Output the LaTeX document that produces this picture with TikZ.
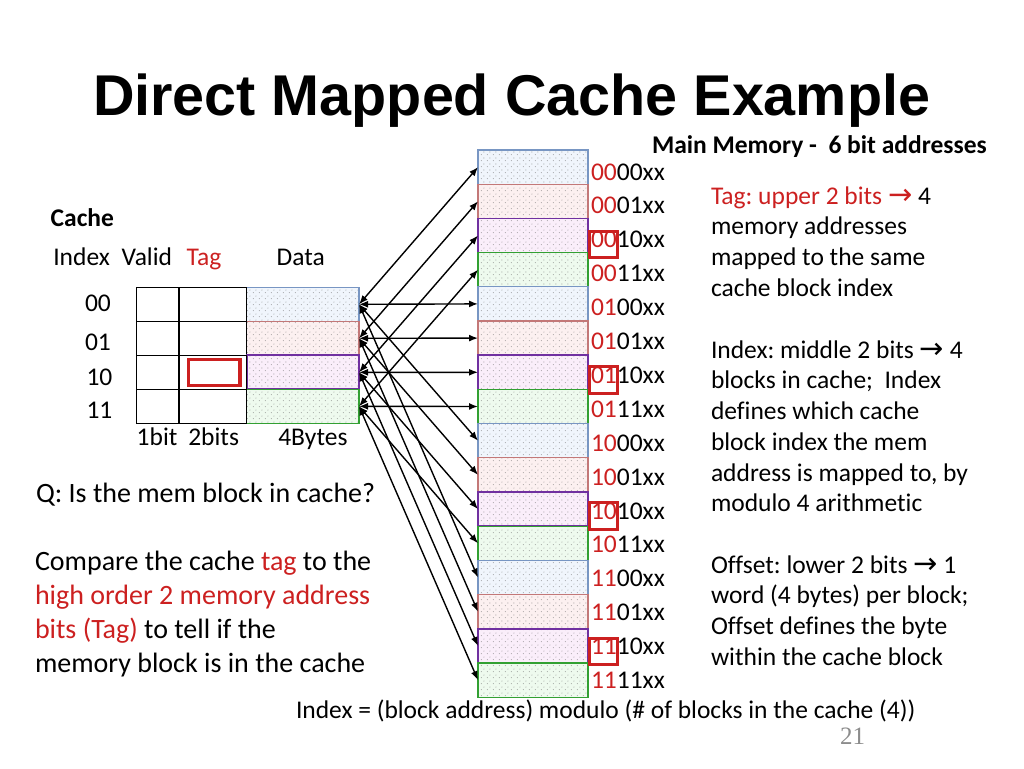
\documentclass[tikz,border=0pt]{standalone}
\usepackage{fontspec}
\setmainfont{Carlito}[Ligatures=NoCommon]
\newfontfamily\titlefnt{Liberation Sans}
\newfontfamily\arrowfnt{DejaVu Sans}
\newfontfamily\numfnt{Liberation Serif}
\usetikzlibrary{patterns.meta,arrows.meta}
\definecolor{redc}{RGB}{204,32,32}
\definecolor{bluec}{RGB}{120,150,195}
\definecolor{redb}{RGB}{195,120,120}
\definecolor{purpc}{RGB}{112,48,160}
\definecolor{greenc}{RGB}{50,160,50}
\definecolor{bluet}{RGB}{240,245,252}
\definecolor{redt}{RGB}{252,240,240}
\definecolor{purpt}{RGB}{250,238,250}
\definecolor{greent}{RGB}{238,250,238}
\definecolor{pagegray}{RGB}{140,140,140}
\frenchspacing
\newcommand\mybody{\fontsize{25.5}{30}\selectfont}
\newcommand\myleft{\fontsize{28}{34}\selectfont}
\newcommand\myarr{{\arrowfnt\fontsize{29}{30}\selectfont →}}
\tikzdeclarepattern{
  name=sdots, type=uncolored,
  bounding box={(0pt,0pt) and (6pt,6pt)},
  tile size={(6pt,6pt)},
  code={\fill (1.5pt,1.5pt) circle (0.5pt); \fill (4.5pt,4.5pt) circle (0.5pt);}
}
\tikzset{
  every node/.style={inner sep=0pt, outer sep=0pt},
  txt/.style={anchor=base west, font=\mybody},
  ltxt/.style={anchor=base west, font=\myleft},
  memblk/.style={minimum width=110pt, minimum height=34.2pt, line width=1.2pt,
    pattern=sdots, pattern color=black!55},
  blk0/.style={draw=bluec, preaction={fill=bluet}},
  blk1/.style={draw=redb, preaction={fill=redt}},
  blk2/.style={draw=purpc, line width=1.8pt, preaction={fill=purpt}},
  blk3/.style={draw=greenc, preaction={fill=greent}},
  cell/.style={draw=black, line width=1.3pt, minimum height=34pt},
  hlbox/.style={draw=redc, line width=3pt, minimum width=28pt, minimum height=26.5pt},
  conn/.style={line width=1.4pt, {Latex[length=9pt,width=7pt]}-{Latex[length=9pt,width=7pt]}}
}
\begin{document}
\begin{tikzpicture}[x=1pt,y=-1pt]
\useasboundingbox (0,0) rectangle (1024,768);
% title
\node[anchor=base west, font={\titlefnt\bfseries\fontsize{57.5}{60}\selectfont}] (title) at (93,115) {Direct Mapped Cache Example};
% main memory header
\node[txt, font={\mybody\bfseries}] (mmhead) at (652,153.3) {Main Memory -~ 6 bit addresses};
% memory blocks
\foreach \i in {0,...,15} {
  \pgfmathtruncatemacro\k{mod(\i,4)}
  \node[memblk, blk\k] (m\i) at (533, {167.1+34.2*\i}) {};
}
% memory labels
\foreach \i/\hi/\lo in {0/00/00,1/00/01,2/00/10,3/00/11,4/01/00,5/01/01,6/01/10,7/01/11,8/10/00,9/10/01,10/10/10,11/10/11,12/11/00,13/11/01,14/11/10,15/11/11}
  \node[txt] (l\i) at (591, {180+33.9*\i}) {\textcolor{redc}{\hi}\lo xx};
\foreach \i in {2,6,10,14}
  \node[hlbox] (h\i) at (603, {180+33.9*\i-3.25}) {};
% cache table
\node[txt, font={\mybody\bfseries}] (cachelbl) at (50.7,226.7) {Cache};
\node[txt] (hindex) at (53.3,265) {Index};
\node[txt] (hvalid) at (121.7,265) {Valid};
\node[txt, text=redc] (htag) at (186.7,265) {Tag};
\node[txt] (hdata) at (276.7,265) {Data};
\foreach \r in {0,...,3} {
  \pgfmathtruncatemacro\k{\r}
  \node[memblk, blk\k, minimum width=112.3pt, minimum height=34pt] (d\r) at (302.9, {304.3+34*\r}) {};
  \node[cell, minimum width=42.3pt] (v\r) at (157.9, {304.3+34*\r}) {};
  \node[cell, minimum width=67.7pt] (t\r) at (212.9, {304.3+34*\r}) {};
}
\node[draw=redc, line width=3.5pt, minimum width=51.7pt, minimum height=26.4pt] (tagbox) at (214.2,372.5) {};
\node[txt] (i0) at (85,311.7) {00};
\node[txt] (i1) at (85,350) {01};
\node[txt] (i2) at (86.5,385) {10};
\node[txt] (i3) at (86.5,418.3) {11};
\node[txt] (w1) at (136.7,445) {1bit};
\node[txt] (w2) at (188.3,445) {2bits};
\node[txt] (w3) at (278.3,445) {4Bytes};
% connectors
\foreach \r in {0,...,3} {
  \foreach \q in {0,...,3} {
    \pgfmathtruncatemacro\j{\r+4*\q}
    \draw[conn] (d\r.east) -- (m\j.west);
  }
}
% right text
\node[txt] (r1) at (711,204) {\textcolor{redc}{Tag: upper 2 bits \myarr} 4};
\node[txt] (r2) at (711,234.75) {memory addresses};
\node[txt] (r3) at (711,265.5) {mapped to the same};
\node[txt] (r4) at (711,296.25) {cache block index};
\node[txt] (r5) at (711,358) {Index: middle 2 bits \myarr\ 4};
\node[txt] (r6) at (711,388.75) {blocks in cache;~ Index};
\node[txt] (r7) at (711,419.5) {defines which cache};
\node[txt] (r8) at (711,450.25) {block index the mem};
\node[txt] (r9) at (711,481) {address is mapped to, by};
\node[txt] (r10) at (711,511.75) {modulo 4 arithmetic};
\node[txt] (r11) at (711,573) {Offset: lower 2 bits \myarr\ 1};
\node[txt] (r12) at (711,603.75) {word (4 bytes) per block;};
\node[txt] (r13) at (711,634.5) {Offset defines the byte};
\node[txt] (r14) at (711,665.25) {within the cache block};
% left text
\node[ltxt] (q1) at (36,502) {Q: Is the mem block in cache?};
\node[ltxt] (q2) at (35,570) {Compare the cache \textcolor{redc}{tag} to the};
\node[ltxt, text=redc] (q3) at (35,604) {high order 2 memory address};
\node[ltxt] (q4) at (35,638) {\textcolor{redc}{bits (Tag)} to tell if the};
\node[ltxt] (q5) at (35,672) {memory block is in the cache};
% bottom
\node[txt] (formula) at (296,718) {Index = (block address) modulo (\# of blocks in the cache (4))};
\node[anchor=base west, text=pagegray, font={\numfnt\fontsize{25}{28}\selectfont}] (page) at (840,744) {21};
\end{tikzpicture}
\end{document}
